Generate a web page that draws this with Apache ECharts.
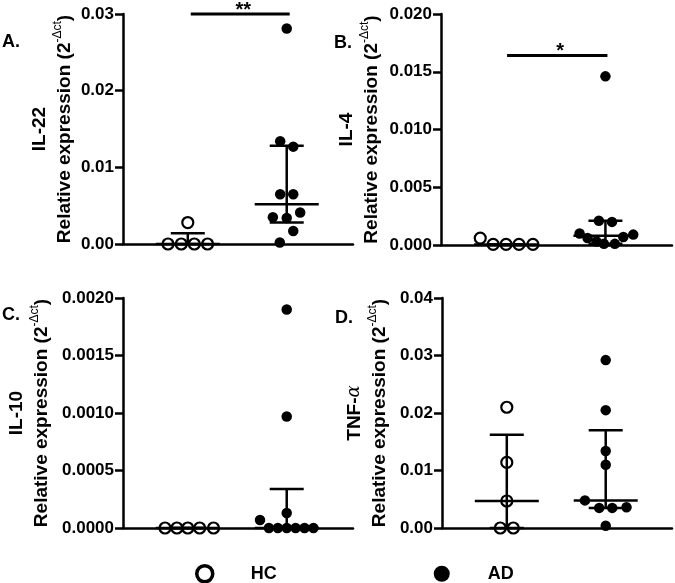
<!DOCTYPE html>
<html>
<head>
<meta charset="utf-8">
<script src="https://cdn.jsdelivr.net/npm/echarts@6/dist/echarts.min.js"></script>
<style>
html,body{margin:0;padding:0;background:#fff;}
#chart{width:675px;height:583px;}
</style>
</head>
<body>
<div id="chart"></div>
<script>
// ---------- data ----------
const groups = ['HC', 'AD'];
const panelLetters = ['A.', 'B.', 'C.', 'D.'];
const genes = ['IL-22', 'IL-4', 'IL-10', 'TNF-α'];

const yMax  = [0.03, 0.02, 0.002, 0.04];
const yStep = [0.01, 0.005, 0.0005, 0.01];
const yTicksA = ['0.00', '0.01', '0.02', '0.03'];
const yTicksB = ['0.000', '0.005', '0.010', '0.015', '0.020'];
const yTicksC = ['0.0000', '0.0005', '0.0010', '0.0015', '0.0020'];
const yTicksD = ['0.00', '0.01', '0.02', '0.03', '0.04'];

// IL-22
const hcA    = [0.0028, 0, 0, 0, 0];
const hcJitA = [0, -0.20, -0.066, 0.066, 0.20];
const adA    = [0.0281, 0.0134, 0.0127, 0.0065, 0.0065, 0.0035, 0.0034, 0.0041, 0.0017, 0.0002];
const adJitA = [0, -0.066, 0.066, -0.066, 0.066, -0.14, 0, 0.136, 0.066, -0.07];
const errHcA = [0, 0, 0.0014];          // median, lower, upper
const errAdA = [0.0052, 0.0028, 0.0128];

// IL-4
const hcB    = [0.0006, 0.00005, 0.00005, 0.00005, 0.00005];
const hcJitB = [-0.26, -0.13, 0, 0.13, 0.27];
const adB    = [0.0146, 0.0021, 0.0020, 0.0010, 0.0006, 0.0003, 0.0001, 0.0001, 0.0007, 0.0009];
const adJitB = [0, -0.066, 0.066, -0.26, -0.18, -0.09, -0.015, 0.095, 0.18, 0.28];
const errHcB = [0.00005, 0.00005, 0.00005];
const errAdB = [0.0008, 0.0001, 0.0021];

// IL-10
const hcC    = [0, 0, 0, 0, 0];
const hcJitC = [-0.23, -0.11, 0, 0.12, 0.26];
const adC    = [0.0019, 0.00097, 0.00013, 0.00007, 0, 0, 0, 0, 0, 0];
const adJitC = [0, 0, 0, -0.27, -0.18, -0.09, 0, 0.09, 0.18, 0.27];
const errHcC = [0, 0, 0];
const errAdC = [0, 0, 0.00034];

// TNF-alpha
const hcD    = [0.021, 0.0114, 0.0047, 0, 0];
const hcJitD = [0, 0, 0, -0.066, 0.066];
const adD    = [0.0292, 0.0205, 0.0134, 0.011, 0.0048, 0.0035, 0.0035, 0.0036, 0.0004];
const adJitD = [0, 0, 0, 0, -0.21, -0.066, 0.066, 0.21, 0];
const errHcD = [0.0047, 0, 0.0162];
const errAdD = [0.0048, 0.0035, 0.0170];

// significance bars: [from group pos, to group pos], level, stars
const sigFrom  = [1.03, 1.01, null, null];
const sigTo    = [2.03, 2.02, null, null];
const sigLevel = [0.03, 0.0164, null, null];
const sigStars = ['**', '*', '', ''];

// ---------- layout / styling ----------
const FONT = '"Liberation Sans", Arial, Helvetica, sans-serif';
const grids = [
  {left: 123, top: 14,  width: 230, height: 230},
  {left: 441, top: 14,  width: 231, height: 231},
  {left: 123, top: 298, width: 230, height: 230},
  {left: 442, top: 298, width: 230, height: 230}
];
const nameGaps = [46, 57, 69, 50];
const letterPos = [[2, 33], [334, 34], [2, 306], [335, 309]];

const tickSets = [yTicksA, yTicksB, yTicksC, yTicksD];
const hcVals = [hcA, hcB, hcC, hcD], hcJit = [hcJitA, hcJitB, hcJitC, hcJitD];
const adVals = [adA, adB, adC, adD], adJit = [adJitA, adJitB, adJitC, adJitD];
const errHc = [errHcA, errHcB, errHcC, errHcD], errAd = [errAdA, errAdB, errAdC, errAdD];

function geneRich(g) {
  // Greek letters rendered in an italic serif face, like the reference
  const m = g.match(/^(.*?)([α-ω])$/);
  if (m) return '{g|' + m[1] + '}{al|' + m[2] + '}';
  return '{g|' + g + '}';
}

const chart = echarts.init(document.getElementById('chart'), null, {renderer: 'canvas'});

const xAxes = [], yAxes = [], series = [], titles = [];
for (let i = 0; i < 4; i++) {
  xAxes.push({
    gridIndex: i, type: 'value', min: 0.345, max: 2.67,
    axisLine: {show: true, onZero: false, lineStyle: {color: '#000', width: 2.5}},
    axisTick: {show: false}, axisLabel: {show: false}, splitLine: {show: false}
  });
  const ticks = tickSets[i];
  yAxes.push({
    gridIndex: i, type: 'value', min: 0, max: yMax[i], interval: yStep[i],
    axisLine: {show: true, lineStyle: {color: '#000', width: 2.5}},
    axisTick: {show: true, length: 8, lineStyle: {color: '#000', width: 2.5}},
    axisLabel: {
      margin: 9, color: '#000', fontFamily: FONT, fontWeight: 'bold', fontSize: 17,
      formatter: (v, idx) => ticks[Math.round(v / yStep[i])]
    },
    splitLine: {show: false},
    name: geneRich(genes[i]) + '\n{r|Relative expression (2}{s|-Δct}{r|)}',
    nameLocation: 'middle', nameRotate: 90, nameGap: nameGaps[i], nameMoveOverlap: false,
    nameTextStyle: {
      color: '#000', fontFamily: FONT, fontWeight: 'bold', fontSize: 19, lineHeight: 25,
      rich: {
        g: {fontFamily: FONT, fontWeight: 'bold', fontSize: 19, lineHeight: 25, color: '#000'},
        al: {fontFamily: '"DejaVu Serif", serif', fontStyle: 'italic', fontWeight: 'normal', fontSize: 18, lineHeight: 25, color: '#000'},
        r: {fontFamily: FONT, fontWeight: 'bold', fontSize: 19, lineHeight: 25, color: '#000'},
        s: {fontFamily: FONT, fontWeight: 'normal', fontSize: 12, lineHeight: 25, verticalAlign: 'top', color: '#000'}
      }
    }
  });
  titles.push({
    text: panelLetters[i], left: letterPos[i][0], top: letterPos[i][1], padding: 0,
    textStyle: {fontFamily: FONT, fontWeight: 'bold', fontSize: 18, color: '#000', lineHeight: 18}
  });

  // error bars (median with interquartile range)
  series.push({
    type: 'custom', name: 'err' + i, xAxisIndex: i, yAxisIndex: i, z: 3, clip: false,
    silent: true,
    data: [[1].concat(errHc[i]), [2].concat(errAd[i])],
    encode: {x: 0, y: [1, 2, 3]},
    renderItem: function (params, api) {
      const x = api.value(0);
      const pm = api.coord([x, api.value(1)]);
      const pl = api.coord([x, api.value(2)]);
      const ph = api.coord([x, api.value(3)]);
      const st = {stroke: '#000', lineWidth: 2.5};
      return {type: 'group', children: [
        {type: 'line', shape: {x1: pm[0] - 32, y1: pm[1], x2: pm[0] + 32, y2: pm[1]}, style: st},
        {type: 'line', shape: {x1: pl[0], y1: pl[1], x2: ph[0], y2: ph[1]}, style: st},
        {type: 'line', shape: {x1: ph[0] - 17, y1: ph[1], x2: ph[0] + 17, y2: ph[1]}, style: st},
        {type: 'line', shape: {x1: pl[0] - 17, y1: pl[1], x2: pl[0] + 17, y2: pl[1]}, style: st}
      ]};
    }
  });

  series.push({
    type: 'scatter', name: 'HC', xAxisIndex: i, yAxisIndex: i, z: 4, clip: false,
    symbol: 'circle', symbolSize: 11,
    itemStyle: {color: 'rgba(0,0,0,0)', borderColor: '#000', borderWidth: 2.2, opacity: 1},
    emphasis: {disabled: true},
    data: hcVals[i].map((v, k) => [1 + hcJit[i][k], v])
  });
  series.push({
    type: 'scatter', name: 'AD', xAxisIndex: i, yAxisIndex: i, z: 4, clip: false,
    symbol: 'circle', symbolSize: 10.5,
    itemStyle: {color: '#000', opacity: 1},
    emphasis: {disabled: true},
    data: adVals[i].map((v, k) => [2 + adJit[i][k], v])
  });

  if (sigLevel[i] !== null) {
    const stars = sigStars[i];
    series.push({
      type: 'custom', name: 'sig' + i, xAxisIndex: i, yAxisIndex: i, z: 5, clip: false, silent: true,
      data: [[sigFrom[i], sigTo[i], sigLevel[i]]],
      encode: {x: [0, 1], y: 2},
      renderItem: function (params, api) {
        const p1 = api.coord([api.value(0), api.value(2)]);
        const p2 = api.coord([api.value(1), api.value(2)]);
        return {type: 'group', children: [
          {type: 'line', shape: {x1: p1[0], y1: p1[1], x2: p2[0], y2: p2[1]}, style: {stroke: '#000', lineWidth: 3}},
          {type: 'text', x: (p1[0] + p2[0]) / 2 + 3, y: p1[1] - 4,
           style: {text: stars, fill: '#000', font: 'bold 20px ' + FONT, textAlign: 'center', textVerticalAlign: 'middle'}}
        ]};
      }
    });
  }
}

const option = {
  backgroundColor: '#fff',
  animation: false,
  title: titles,
  grid: grids.map(g => Object.assign({containLabel: false, outerBoundsMode: 'none'}, g)),
  xAxis: xAxes,
  yAxis: yAxes,
  legend: {
    show: true, left: 190, top: 559, itemGap: 157, itemWidth: 16, itemHeight: 16,
    selectedMode: false,
    textStyle: {fontFamily: FONT, fontWeight: 'bold', fontSize: 18, color: '#000', padding: [0, 0, 0, 33]},
    data: [
      {name: 'HC', icon: 'circle', itemStyle: {color: 'rgba(0,0,0,0)', borderColor: '#000', borderWidth: 3.5}},
      {name: 'AD', icon: 'circle', itemStyle: {color: '#000', borderWidth: 0}}
    ]
  },
  series: series
};
chart.setOption(option);
</script>
</body>
</html>
